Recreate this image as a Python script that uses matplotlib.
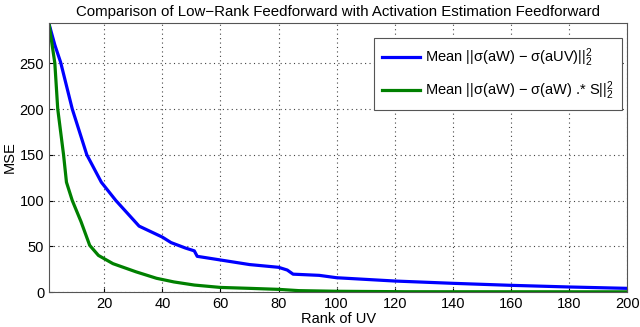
import matplotlib
matplotlib.use("Agg")
import matplotlib.pyplot as plt

plt.rcParams['font.family'] = ['Liberation Sans', 'DejaVu Sans']
plt.rcParams['mathtext.fontset'] = 'custom'
plt.rcParams['mathtext.rm'] = 'Liberation Sans'
plt.rcParams['mathtext.it'] = 'Liberation Sans'

# courbe bleue : low-rank UV
rank_blue = [1, 3, 5, 9, 14, 19, 24, 30, 32, 40, 43, 48, 51, 52, 60, 70, 80, 83, 85, 94,
             100, 120, 140, 160, 180, 200]
mse_blue = [293, 270, 251, 200, 150, 120, 100, 79, 72, 60, 54, 48, 45, 39, 35, 30, 27, 24, 19.5, 18.2,
            15.6, 12, 9.5, 7.3, 5.5, 4]

# courbe verte : estimation d'activation
rank_green = [1, 3, 4, 6, 7, 9, 12, 15, 18, 23, 31, 38, 44, 51, 60, 70, 80, 87, 100, 124, 200]
mse_green = [293, 250, 200, 150, 120, 100, 77, 51, 40, 31, 22, 15, 11, 7.6, 5, 4, 2.9, 1.5, 0.8, 0.3, 0.2]

xticks = [20, 40, 60, 80, 100, 120, 140, 160, 180, 200]
yticks = [0, 50, 100, 150, 200, 250]

fig = plt.figure(figsize=(6.4, 3.27), dpi=100)
ax = fig.add_axes([0.0766, 0.107, 0.9034, 0.8227])

ax.plot(rank_blue, mse_blue, color=(0, 0, 1), lw=2.3,
        label=r'Mean ||σ(aW) − σ(aUV)||$_2^2$')
ax.plot(rank_green, mse_green, color=(0, 0.5, 0), lw=2.3,
        label=r'Mean ||σ(aW) − σ(aW) .* S||$_2^2$')

ax.set_xlim(1, 200)
ax.set_ylim(0, 294)
ax.set_xticks(xticks)
ax.set_yticks(yticks)
ax.tick_params(direction='in', labelsize=10.5, length=3)
ax.grid(True, linestyle=(0, (1, 3)), color='#444444', lw=0.8)
for s in ax.spines.values():
    s.set_color('#555555')

ax.set_title('Comparison of Low−Rank Feedforward with Activation Estimation Feedforward', fontsize=10.8, pad=5)
ax.set_xlabel('Rank of UV', fontsize=10.5, labelpad=1)
ax.set_ylabel('MSE', fontsize=10.5, labelpad=2)

leg = ax.legend(loc='upper right', fontsize=10.5, fancybox=False, framealpha=1,
                edgecolor='#555555', handlelength=2.6, handletextpad=0.35,
                labelspacing=0.75, borderpad=0.55, borderaxespad=0.4,
                bbox_to_anchor=(1.001, 0.965))
leg.get_frame().set_linewidth(0.8)

fig.savefig('out.png', dpi=100)
